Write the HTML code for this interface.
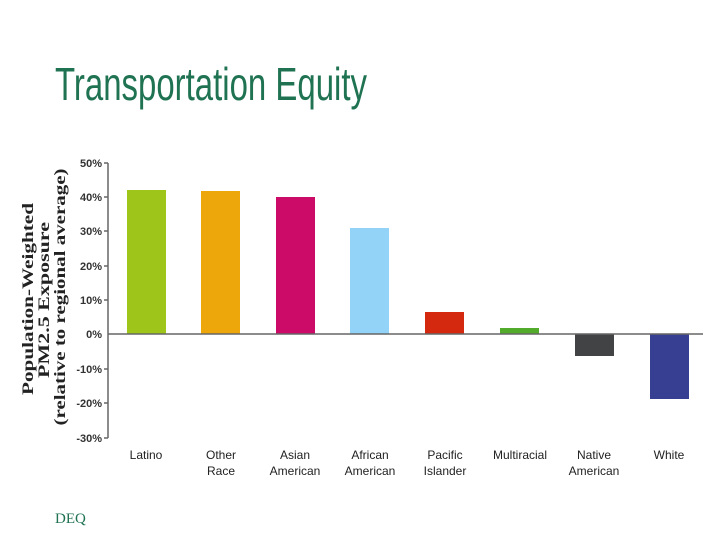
<!DOCTYPE html>
<html><head><meta charset="utf-8"><style>body{margin:0;background:#fff}svg{display:block}</style></head><body>
<svg width="720" height="540" xmlns="http://www.w3.org/2000/svg">
<text x="55" y="100" font-family="Liberation Sans, sans-serif" font-size="46" fill="#1f7352" textLength="312" lengthAdjust="spacingAndGlyphs">Transportation Equity</text>
<g font-family="Liberation Serif, serif" font-weight="bold" font-size="16" fill="#222" text-anchor="middle">
<text transform="translate(33,299) rotate(-90)" textLength="192" lengthAdjust="spacingAndGlyphs">Population-Weighted</text>
<text transform="translate(49,300) rotate(-90)" textLength="156" lengthAdjust="spacingAndGlyphs">PM2.5 Exposure</text>
<text transform="translate(65,297) rotate(-90)" textLength="257" lengthAdjust="spacingAndGlyphs">(relative to regional average)</text>
</g>
<g stroke="#666" stroke-width="1.5">
<line x1="108" y1="163" x2="108" y2="438"/>
<line x1="104" y1="163" x2="108" y2="163"/><line x1="104" y1="197" x2="108" y2="197"/>
<line x1="104" y1="231" x2="108" y2="231"/><line x1="104" y1="266" x2="108" y2="266"/>
<line x1="104" y1="300" x2="108" y2="300"/><line x1="104" y1="369" x2="108" y2="369"/>
<line x1="104" y1="403" x2="108" y2="403"/><line x1="104" y1="438" x2="108" y2="438"/>
</g>
<g font-family="Liberation Sans, sans-serif" font-size="11" fill="#333" text-anchor="end" font-weight="bold">
<text x="102" y="167">50%</text><text x="102" y="201">40%</text><text x="102" y="235">30%</text>
<text x="102" y="270">20%</text><text x="102" y="304">10%</text><text x="102" y="338">0%</text>
<text x="102" y="373">-10%</text><text x="102" y="407">-20%</text><text x="102" y="442">-30%</text>
</g>
<rect x="127" y="190" width="39" height="144" fill="#9dc51a"/>
<rect x="201" y="191" width="39" height="143" fill="#eea70a"/>
<rect x="276" y="197" width="39" height="137" fill="#cc0a68"/>
<rect x="350" y="228" width="39" height="106" fill="#93d3f7"/>
<rect x="425" y="312" width="39" height="22" fill="#d4290f"/>
<rect x="500" y="328" width="39" height="6" fill="#52ab2a"/>
<rect x="575" y="334" width="39" height="22" fill="#424345"/>
<rect x="650" y="334" width="39" height="65" fill="#363f91"/>
<line x1="108" y1="334" x2="703" y2="334" stroke="#666" stroke-width="1.5"/>
<g font-family="Liberation Sans, sans-serif" font-size="12" fill="#222" text-anchor="middle">
<text x="146" y="459">Latino</text>
<text x="221" y="459">Other</text><text x="221" y="475">Race</text>
<text x="295" y="459">Asian</text><text x="295" y="475">American</text>
<text x="370" y="459">African</text><text x="370" y="475">American</text>
<text x="445" y="459">Pacific</text><text x="445" y="475">Islander</text>
<text x="520" y="459">Multiracial</text>
<text x="594" y="459">Native</text><text x="594" y="475">American</text>
<text x="669" y="459">White</text>
</g>
<text x="55" y="523" font-family="Liberation Serif, serif" font-size="15" fill="#1f7352">DEQ</text>
</svg>
</body></html>
